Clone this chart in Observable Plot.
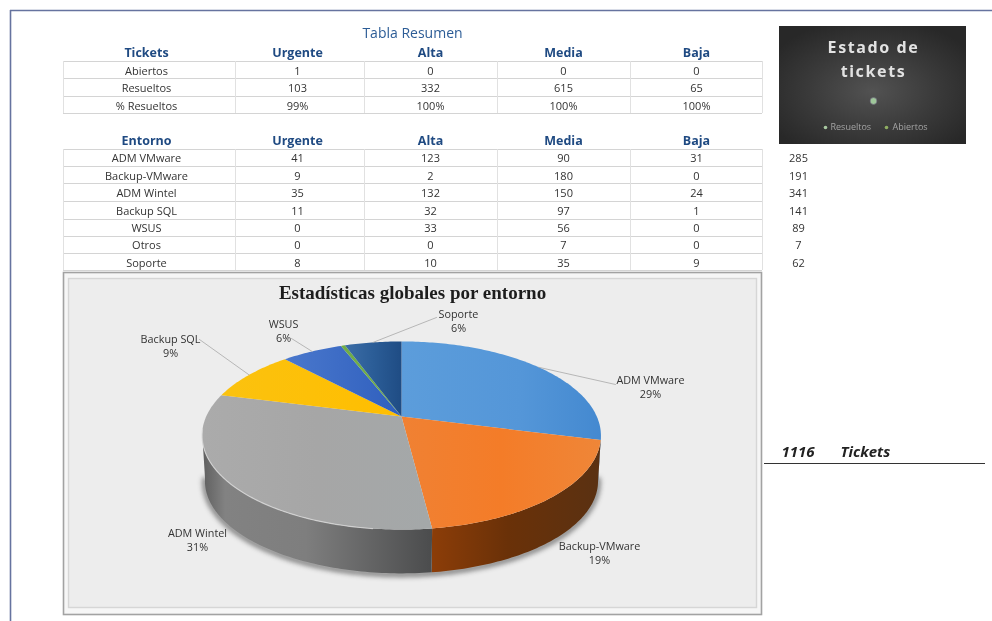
<!DOCTYPE html>
<html lang="es">
<head>
<meta charset="utf-8">
<title>Estadísticas globales por entorno</title>
<script src="https://cdn.jsdelivr.net/npm/d3@7"></script>
<script src="https://cdn.jsdelivr.net/npm/@observablehq/plot@0.6"></script>
<style>
  html, body { margin: 0; padding: 0; background: #fff; }
  svg { display: block; filter: blur(0.45px); }
  .spaced text { letter-spacing: 1.6px; }
</style>
</head>
<body>
<div id="chart"></div>
<script>
// ---------- data ----------
const priorities = ["Urgente", "Alta", "Media", "Baja"];

const ticketRows = ["Abiertos", "Resueltos", "% Resueltos"];
const ticketValues = [
  ["1", "0", "0", "0"],
  ["103", "332", "615", "65"],
  ["99%", "100%", "100%", "100%"]
];

const entornos = ["ADM VMware", "Backup-VMware", "ADM Wintel", "Backup SQL", "WSUS", "Otros", "Soporte"];
const entornoValues = [
  [41, 123, 90, 31],
  [9, 2, 180, 0],
  [35, 132, 150, 24],
  [11, 32, 97, 1],
  [0, 33, 56, 0],
  [0, 0, 7, 0],
  [8, 10, 35, 9]
];
const entornoTotals = [285, 191, 341, 141, 89, 7, 62];
const grandTotal = 1116;

const pieShares = [29, 19, 31, 9, 6, 0.4, 5.6];
const pieLabels = ["29%", "19%", "31%", "9%", "6%", null, "6%"];

const estadoNames = ["Resueltos", "Abiertos"];
const estadoValues = [1115, 1];

// ---------- layout and style ----------
const W = 992, H = 621;
const colX = [146, 297, 430, 563, 696];
const colEdges = [63, 235, 364, 497, 630, 762];
const totalX = 798;
const ticketHeaderY = 52, entornoHeaderY = 140;
const ticketRowY = [71, 88, 105.5];
const entornoRowY = [158, 175.5, 193, 211, 228, 245, 263];
const ticketLines = [61, 78, 96, 113];
const entornoLines = [149, 166, 183, 201, 219, 236, 253, 270];

const sliceColors = ["url(#gBlue)", "url(#gOrange)", "url(#gGrey)", "url(#gYellow)", "url(#gWsus)", "#70ad47", "url(#gSoporte)"];
const labelAnchors = [
  {x: 650, y: 380, lx: 615, ly: 384},
  {x: 599, y: 546},
  {x: 197, y: 533},
  {x: 170, y: 339, lx: 199, ly: 339},
  {x: 283, y: 324, lx: 291, ly: 338},
  null,
  {x: 458, y: 314, lx: 436, ly: 317}
];

const pieC = {x: 401, y: 416, rx: 195.3, ry: 90.2, k: 0.202};
const depth = {dy: 46, rx: 192.5, ry: 88.5};

const rad = Math.PI / 180;
// perspective view of a circle: a = clockwise radians from the back of the pie
function rim(a, g = pieC, dy = 0) {
  const u = Math.sin(a), v = Math.cos(a), d = 1 + pieC.k * v;
  return {x: pieC.x + g.rx * u / d, y: pieC.y + dy - g.ry * v / d};
}
function arcPts(a0, a1, g, dy) {
  const n = Math.max(2, Math.ceil(Math.abs(a1 - a0) / (1 * rad)));
  return d3.range(n + 1).map(i => rim(a0 + (a1 - a0) * i / n, g, dy));
}

const arcs = d3.pie().sort(null)(pieShares);
const topPts = arcs.flatMap((s, i) => [
  {x: pieC.x, y: pieC.y},
  ...arcPts(s.startAngle, s.endAngle, pieC, 0)
].map(p => ({...p, name: entornos[i]})));

const wallFrom = 100 * rad, wallTo = 260 * rad;
const wallPts = arcs.flatMap((s, i) => {
  const a0 = Math.max(s.startAngle, wallFrom), a1 = Math.min(s.endAngle, wallTo);
  if (a1 <= a0) return [];
  return [
    ...arcPts(a0, a1, pieC, 0),
    ...arcPts(a1, a0, depth, depth.dy)
  ].map(p => ({...p, name: entornos[i]}));
});
const wallColors = ["#3a6c9e", "url(#wOrange)", "url(#wGrey)"];

const shadowPts = arcPts(wallFrom, wallTo, depth, depth.dy + 1);
const rimHighlight = arcPts(arcs[2].startAngle + 14 * rad, 262 * rad, pieC, 0);

const leaders = labelAnchors.flatMap((l, i) => {
  if (!l || l.lx == null) return [];
  const s = arcs[i], m = rim((s.startAngle + s.endAngle) / 2);
  return [{x: l.lx, y: l.ly, id: i}, {x: m.x, y: m.y, id: i}];
});

const pieLabelRows = entornos.flatMap((name, i) => {
  const l = labelAnchors[i];
  if (!l) return [];
  return [{x: l.x, y: l.y, text: name}, {x: l.x, y: l.y + 14, text: pieLabels[i]}];
});

const headerRows = ["Tickets", ...priorities].map((t, i) => ({x: colX[i], y: ticketHeaderY, text: t}))
  .concat(["Entorno", ...priorities].map((t, i) => ({x: colX[i], y: entornoHeaderY, text: t})));
const cellRows = [
  ...ticketRows.flatMap((r, j) => [r, ...ticketValues[j]].map((t, i) => ({x: colX[i], y: ticketRowY[j], text: String(t)}))),
  ...entornos.flatMap((r, j) => [r, ...entornoValues[j]].map((t, i) => ({x: colX[i], y: entornoRowY[j], text: String(t)}))),
  ...entornoTotals.map((t, j) => ({x: totalX, y: entornoRowY[j], text: String(t)}))
];

const gridH = [...ticketLines, ...entornoLines].map(y => ({y}));
const gridV = colEdges.flatMap(x => [
  {x, y1: ticketLines[0], y2: ticketLines[3]},
  {x, y1: entornoLines[0], y2: entornoLines[7]}
]);

const estadoShares = d3.sum(estadoValues);
const estadoLegend = estadoNames.map((name, i) => ({name, i}));

const FONT = "'Open Sans', 'Noto Sans', sans-serif";

function defs() {
  const stops = (id, list, attrs = {}, tag = "linearGradient") => {
    const g = d3.create(`svg:${tag}`).attr("id", id);
    for (const k in attrs) g.attr(k, attrs[k]);
    list.forEach(([o, c]) => g.append("stop").attr("offset", o).attr("stop-color", c));
    return g.node();
  };
  const d = d3.create("svg:defs");
  const add = n => d.node().appendChild(n);
  add(stops("gBlue", [[0, "#5c9ddb"], [0.6, "#5496d8"], [1, "#4489d0"]]));
  add(stops("gOrange", [[0, "#f08133"], [0.5, "#f47c28"], [1, "#ef8638"]]));
  add(stops("gGrey", [[0, "#ababab"], [0.5, "#a6a6a6"], [1, "#a4a8a9"]]));
  add(stops("gYellow", [[0, "#fbc20f"], [1, "#ffbe00"]]));
  add(stops("gWsus", [[0, "#4a78cc"], [1, "#2f5fbe"]]));
  add(stops("gSoporte", [[0, "#3c6da6"], [0.5, "#2b5d97"], [1, "#1f4c84"]]));
  add(stops("wGrey", [[0, "#5e5e5e"], [0.1, "#828282"], [0.45, "#7e7e7e"], [1, "#4b4c4d"]]));
  add(stops("wOrange", [[0, "#8c3d08"], [0.45, "#6a3108"], [1, "#5a3112"]]));
  add(stops("gBoard", [[0, "#525252"], [0.55, "#3a3a3a"], [1, "#282828"]], {cx: "50%", cy: "55%", r: "62%"}, "radialGradient"));
  return d.node();
}

const plot = Plot.plot({
  width: W,
  height: H,
  margin: 0,
  style: {background: "#fff", fontFamily: FONT, overflow: "hidden"},
  x: {type: "identity", axis: null},
  y: {type: "identity", axis: null},
  color: {type: "ordinal", domain: entornos, range: sliceColors},
  marks: [
    defs,

    // page frame
    Plot.ruleY([10], {x1: 10, x2: W, stroke: "#66739f", strokeWidth: 1.6}),
    Plot.ruleX([10], {y1: 10, y2: H, stroke: "#66739f", strokeWidth: 1.6}),

    // tables
    Plot.ruleY(gridH, {y: "y", x1: colEdges[0], x2: colEdges[5], stroke: "#d4d4d4", strokeWidth: 1}),
    Plot.ruleX(gridV, {x: "x", y1: "y1", y2: "y2", stroke: "#e1e1e1", strokeWidth: 1}),
    Plot.text([{x: 412, y: 33, text: "Tabla Resumen"}], {
      x: "x", y: "y", text: "text", fontSize: 14, fill: "#2c5c96"
    }),
    Plot.text(headerRows, {
      x: "x", y: "y", text: "text", fontSize: 12.5, fontWeight: 700, fill: "#1f4a82"
    }),
    Plot.text(cellRows, {
      x: "x", y: "y", text: "text", fontSize: 11, fill: "#333"
    }),

    // dark "Estado de tickets" board
    Plot.rect([{x1: 779, x2: 966, y1: 26, y2: 144}], {
      x1: "x1", x2: "x2", y1: "y1", y2: "y2", fill: "url(#gBoard)"
    }),
    Plot.text([{x: 873, y: 47, text: "Estado de"}, {x: 873, y: 71, text: "tickets"}], {
      x: "x", y: "y", text: "text", fontSize: 16, fontWeight: 700, fill: "#e2e2e2",
      fontFamily: "'Noto Sans', sans-serif", className: "spaced"
    }),
    Plot.dot([{x: 873, y: 100.5, share: estadoValues[0] / estadoShares}], {
      x: "x", y: "y", r: 3.4, fill: "#9fc79a", stroke: "#6c5c7c", strokeWidth: 0.6
    }),
    Plot.dot(estadoLegend, {
      x: d => [825, 886][d.i], y: () => 127, r: 1.8,
      fill: d => ["#a8c8a0", "#8fae62"][d.i]
    }),
    Plot.text(estadoLegend, {
      x: d => [830, 892][d.i], y: () => 127, text: "name", textAnchor: "start",
      fontSize: 9, fill: "#a4a4a4"
    }),

    // chart panel
    Plot.rect([{x1: 63.5, x2: 761.5, y1: 272.5, y2: 614.5}], {
      x1: "x1", x2: "x2", y1: "y1", y2: "y2", fill: "#f6f6f6", stroke: "#a2a2a2", strokeWidth: 1.6
    }),
    Plot.rect([{x1: 68.5, x2: 756.5, y1: 278.5, y2: 607.5}], {
      x1: "x1", x2: "x2", y1: "y1", y2: "y2", fill: "#ededed", stroke: "#d6d6d6", strokeWidth: 1.4
    }),
    Plot.text([{x: 412, y: 292, text: "Estadísticas globales por entorno"}], {
      x: "x", y: "y", text: "text", fontSize: 19, fontWeight: 700, fill: "#1d1d1d",
      fontFamily: "'Liberation Serif', serif"
    }),

    // pie: soft shadow, side wall, top face
    Plot.line(shadowPts, {
      x: "x", y: "y", stroke: "#1c1c1c", strokeWidth: 5, strokeOpacity: 0.55,
      fill: "none", imageFilter: "blur(2.5px)"
    }),
    Plot.line(wallPts, {
      x: "x", y: "y", z: "name", stroke: "none",
      fill: d => wallColors[entornos.indexOf(d.name)]
    }),
    Plot.line(topPts, {
      x: "x", y: "y", z: "name", fill: "name", stroke: "none"
    }),
    Plot.line(rimHighlight, {x: "x", y: "y", stroke: "#d8d8d8", strokeWidth: 1.2, strokeOpacity: 0.8}),

    // leader lines and slice labels
    Plot.line(leaders, {x: "x", y: "y", z: "id", stroke: "#a8a8a8", strokeWidth: 0.8}),
    Plot.text(pieLabelRows, {
      x: "x", y: "y", text: "text", fontSize: 10.8, fill: "#333"
    }),

    // grand total
    Plot.text([{x: 781, y: 452, text: String(grandTotal)}, {x: 840, y: 452, text: "Tickets"}], {
      x: "x", y: "y", text: "text", textAnchor: "start", fontSize: 15, fontWeight: 700,
      fontStyle: "italic", fill: "#222"
    }),
    Plot.ruleY([463], {x1: 764, x2: 985, stroke: "#333", strokeWidth: 1.2})
  ]
});
document.getElementById("chart").appendChild(plot);
</script>
</body>
</html>
